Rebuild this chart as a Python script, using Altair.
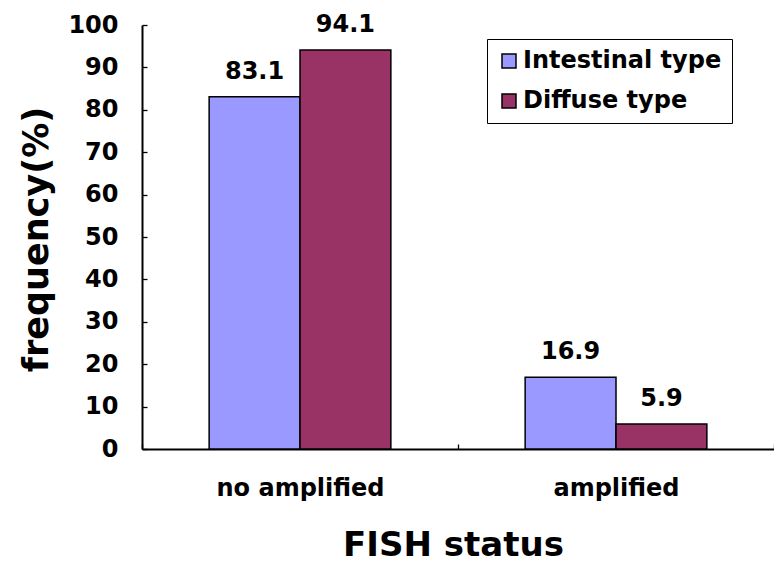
import altair as alt
import pandas as pd

# FISH amplification frequency by Lauren histological type
categories = ["no amplified", "amplified"]
series = ["Intestinal type", "Diffuse type"]
intestinal = [83.1, 16.9]
diffuse = [94.1, 5.9]
colors = ["#9999FF", "#993366"]
y_ticks = [0, 10, 20, 30, 40, 50, 60, 70, 80, 90, 100]

rows = []
for cat, a, b in zip(categories, intestinal, diffuse):
    rows.append({"status": cat, "type": series[0], "freq": a})
    rows.append({"status": cat, "type": series[1], "freq": b})
df = pd.DataFrame(rows)

FONT = "DejaVu Sans"

base = alt.Chart(df).encode(
    x=alt.X(
        "status:N",
        sort=categories,
        scale=alt.Scale(paddingInner=0, paddingOuter=0),
        title="FISH status",
        axis=alt.Axis(
            labelAngle=0,
            labelFontSize=24,
            labelFontWeight="bold",
            labelBaseline="alphabetic",
            labelPadding=51,
            tickBand="extent",
            tickSize={"expr": "-5"},
            tickColor="black",
            tickWidth=1.3,
            domainColor="black",
            domainWidth=2,
            titleFontSize=34,
            titleFontWeight="bold",
            titleBaseline="alphabetic",
            titleX=311,
            titleY=106,
        ),
    ),
    xOffset=alt.XOffset(
        "type:N",
        sort=series,
        scale=alt.Scale(paddingInner=0, paddingOuter=0.739),
    ),
    y=alt.Y(
        "freq:Q",
        scale=alt.Scale(domain=[0, 100], nice=False),
        title="frequency(%)",
        axis=alt.Axis(
            values=y_ticks,
            labelFontSize=24,
            labelFontWeight="bold",
            labelPadding=29,
            tickSize={"expr": "-5"},
            tickColor="black",
            tickWidth=1.3,
            domainColor="black",
            domainWidth=2,
            grid=False,
            titleFontSize=35,
            titleFontWeight="bold",
            titleBaseline="alphabetic",
            titleAlign="center",
            titleX=-95,
            titleY=214,
        ),
    ),
)

bars = base.mark_bar(stroke="black", strokeWidth=1.5).encode(
    color=alt.Color(
        "type:N",
        sort=series,
        scale=alt.Scale(domain=series, range=colors),
        legend=alt.Legend(
            title=None,
            orient="none",
            legendX=345,
            legendY=14,
            direction="vertical",
            strokeColor="black",
            fillColor="white",
            padding=10,
            symbolType="square",
            symbolSize=196,
            symbolStrokeColor="black",
            symbolStrokeWidth=1.5,
            symbolOpacity=1,
            labelFontSize=24,
            labelFontWeight="bold",
            labelOffset=2,
            labelLimit=400,
            rowPadding=16,
        ),
    )
)

labels = base.mark_text(
    dy=-18,
    baseline="alphabetic",
    fontSize=24,
    fontWeight="bold",
    color="black",
).encode(text=alt.Text("freq:Q", format=".1f"))

chart = (
    alt.layer(bars, labels)
    .properties(
        width=632,
        height=424,
        autosize=alt.AutoSizeParams(type="none"),
        padding={"left": 142, "top": 25, "right": 0, "bottom": 113},
        background="white",
    )
    .configure(font=FONT)
    .configure_view(stroke=None)
    .configure_axis(labelColor="black", titleColor="black")
    .configure_legend(labelColor="black")
)

chart.save("out.html", embed_options={"renderer": "svg", "actions": False})
